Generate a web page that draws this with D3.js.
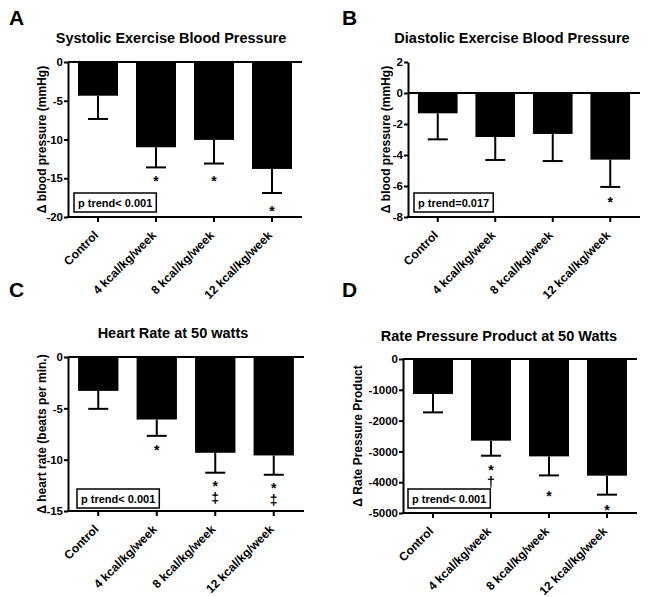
<!DOCTYPE html>
<html><head><meta charset="utf-8">
<script src="https://cdn.jsdelivr.net/npm/d3@7"></script>
<style>
body{margin:0;background:#fff}
svg{display:block}
text{font-family:"Liberation Sans",Arial,Helvetica,sans-serif;font-weight:bold;fill:#000}
</style>
</head><body>
<svg id="chart" width="649" height="597"></svg>
<script>
// ---------- data ----------
const categories = ["Control", "4 kcal/kg/week", "8 kcal/kg/week", "12 kcal/kg/week"];

// A: systolic exercise BP (mmHg)
const sbpMean = [-4.35, -11.0, -10.05, -13.8];
const sbpSem  = [3.0, 2.6, 3.05, 3.1];
const sbpTicks = [0, -5, -10, -15, -20];
const sbpSig = ["", "*", "*", "*"];
const sbpSigY = [null, -15, -15, -18.8];

// B: diastolic exercise BP (mmHg)
const dbpMean = [-1.31, -2.84, -2.64, -4.3];
const dbpSem  = [1.68, 1.48, 1.75, 1.76];
const dbpTicks = [2, 0, -2, -4, -6, -8];
const dbpSig = ["", "", "", "*"];
const dbpSigY = [null, null, null, -6.8];

// C: heart rate at 50 W (beats/min)
const hrMean = [-3.3, -6.09, -9.33, -9.59];
const hrSem  = [1.75, 1.59, 1.94, 1.88];
const hrTicks = [0, -5, -10, -15];
const hrSig = ["", "*", "*‡", "*‡"];
const hrSigY = [null, -8.75, -12.25, -12.47];

// D: rate pressure product at 50 W
const rppMean = [-1136, -2652, -3162, -3788];
const rppSem  = [597, 488, 617, 617];
const rppTicks = [0, -1000, -2000, -3000, -4000, -5000];
const rppSig = ["", "*†", "*", "*"];
const rppSigY = [null, -3487, -4331, -4795];

const titles = ["Systolic Exercise Blood Pressure", "Diastolic Exercise Blood Pressure",
                "Heart Rate at 50 watts", "Rate Pressure Product at 50 Watts"];
const yLabels = ["Δ blood pressure (mmHg)", "Δ blood pressure (mmHg)",
                 "Δ heart rate (beats per min.)", "Δ Rate Pressure Product"];
const pTexts = ["p trend< 0.001", "p trend=0.017", "p trend< 0.001", "p trend< 0.001"];
const letters = ["A", "B", "C", "D"];

// ---------- layout ----------
const panels = [
  {mean: sbpMean, sem: sbpSem, ticks: sbpTicks, sig: sbpSig, sigY: sbpSigY, domain: [0, -20],
   L: 68, R: 302, T: 62, B: 217, titleX: 171, titleY: 43, letterX: 9, letterY: 25, ylabX: 42, boxDx: 6, boxDy: 5},
  {mean: dbpMean, sem: dbpSem, ticks: dbpTicks, sig: dbpSig, sigY: dbpSigY, domain: [2, -8],
   L: 408, R: 640, T: 62, B: 217, titleX: 512, titleY: 43, letterX: 342, letterY: 25, ylabX: 386, boxDx: 6, boxDy: 5},
  {mean: hrMean, sem: hrSem, ticks: hrTicks, sig: hrSig, sigY: hrSigY, domain: [0, -15],
   L: 68, R: 304, T: 357, B: 511, titleX: 173, titleY: 338, letterX: 9, letterY: 297, ylabX: 42, boxDx: 9, boxDy: 3},
  {mean: rppMean, sem: rppSem, ticks: rppTicks, sig: rppSig, sigY: rppSigY, domain: [0, -5000],
   L: 403, R: 637, T: 359, B: 513, titleX: 499, titleY: 341, letterX: 342, letterY: 297, ylabX: 358, boxDx: 5, boxDy: 5}
];

const svg = d3.select("#chart");
const markSize = 14;

panels.forEach((p, i) => {
  const g = svg.append("g");
  const x = d3.scaleBand().domain(categories).range([p.L, p.R])
    .paddingInner(18 / 58).paddingOuter(10 / 58);
  const y = d3.scaleLinear().domain(p.domain).range([p.T, p.B]);

  // letter
  g.append("text").attr("x", p.letterX).attr("y", p.letterY)
    .style("font-size", "21px").text(letters[i]);
  // title
  g.append("text").attr("x", p.titleX).attr("y", p.titleY)
    .attr("text-anchor", "middle").style("font-size", "14.5px").text(titles[i]);
  // y label
  g.append("text")
    .attr("transform", `translate(${p.ylabX},${(p.T + p.B) / 2}) rotate(-90)`)
    .attr("text-anchor", "middle").attr("dy", "0.35em")
    .style("font-size", "12px").text(yLabels[i]);

  // bars
  g.selectAll("rect.bar").data(p.mean).join("rect").attr("class", "bar")
    .attr("x", (d, j) => x(categories[j]))
    .attr("width", x.bandwidth())
    .attr("y", d => Math.min(y(0), y(d)))
    .attr("height", d => Math.abs(y(d) - y(0)))
    .attr("fill", "#000");

  // error bars
  const eb = g.selectAll("g.eb").data(p.mean).join("g").attr("class", "eb");
  eb.append("line")
    .attr("x1", (d, j) => x(categories[j]) + x.bandwidth() / 2)
    .attr("x2", (d, j) => x(categories[j]) + x.bandwidth() / 2)
    .attr("y1", d => y(d))
    .attr("y2", (d, j) => y(d - p.sem[j]))
    .attr("stroke", "#000").attr("stroke-width", 2);
  eb.append("line")
    .attr("x1", (d, j) => x(categories[j]) + x.bandwidth() / 2 - 10)
    .attr("x2", (d, j) => x(categories[j]) + x.bandwidth() / 2 + 10)
    .attr("y1", (d, j) => y(d - p.sem[j]))
    .attr("y2", (d, j) => y(d - p.sem[j]))
    .attr("stroke", "#000").attr("stroke-width", 2);

  // significance marks: single symbol horizontal, stacked symbols vertical text
  p.sig.forEach((s, j) => {
    if (!s) return;
    const cx = x(categories[j]) + x.bandwidth() / 2;
    const cy = y(p.sigY[j]);
    const t = g.append("text").style("font-size", markSize + "px").text(s);
    if (s.length === 1) {
      t.attr("x", cx).attr("y", cy + 0.58 * markSize).attr("text-anchor", "middle");
    } else {
      t.attr("x", cx).attr("y", cy - 0.33 * markSize)
        .style("writing-mode", "vertical-rl")
        .style("text-orientation", "upright")
        .style("letter-spacing", "-4px");
    }
  });

  // zero line
  g.append("line").attr("x1", p.L).attr("x2", p.R)
    .attr("y1", y(0)).attr("y2", y(0))
    .attr("stroke", "#000").attr("stroke-width", 2);

  // y axis
  const ya = g.append("g").attr("transform", `translate(${p.L},0)`)
    .call(d3.axisLeft(y).tickValues(p.ticks).tickSize(4).tickSizeOuter(0)
      .tickPadding(1).tickFormat(d => String(d)));
  ya.selectAll("path,line").attr("stroke", "#000").attr("stroke-width", 2);
  ya.selectAll("text").style("font-size", "11.5px")
    .style("font-family", "'Liberation Sans',Arial,sans-serif").style("font-weight", "bold");

  // x axis
  const xa = g.append("g").attr("transform", `translate(0,${p.B})`)
    .call(d3.axisBottom(x).tickSize(5).tickSizeOuter(0).tickFormat(""));
  xa.selectAll("path,line").attr("stroke", "#000").attr("stroke-width", 2);
  xa.select(".domain").attr("d", `M${p.L - 1},0H${p.R}`);

  // x labels rotated
  g.selectAll("text.xl").data(categories).join("text").attr("class", "xl")
    .attr("transform", d => `translate(${x(d) + x.bandwidth() / 2 + 1},${p.B + 19}) rotate(-45)`)
    .attr("text-anchor", "end").style("font-size", "12px").text(d => d);

  // p trend box
  const box = g.append("rect");
  const pt = g.append("text").attr("x", p.L + p.boxDx + 4).attr("y", p.B - p.boxDy - 5)
    .style("font-size", "11px").text(pTexts[i]);
  const w = pt.node().getComputedTextLength();
  box.attr("x", p.L + p.boxDx).attr("y", p.B - p.boxDy - 19)
    .attr("width", w + 8).attr("height", 19)
    .attr("fill", "#fff").attr("stroke", "#000").attr("stroke-width", 1.5);
});
</script>
</body></html>
